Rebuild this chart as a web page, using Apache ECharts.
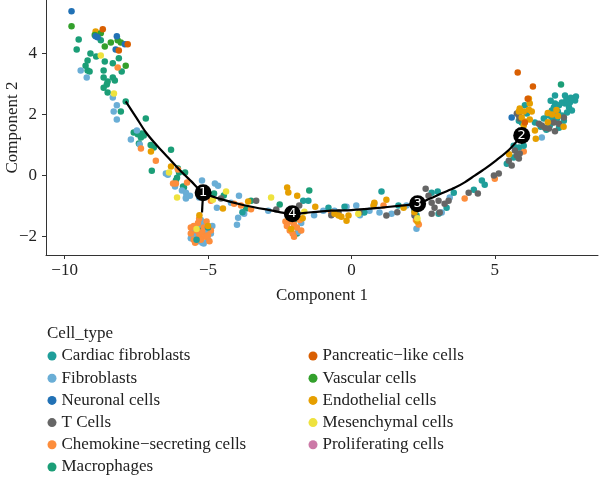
<!DOCTYPE html>
<html><head><meta charset="utf-8">
<script src="https://cdn.jsdelivr.net/npm/echarts@6/dist/echarts.min.js"></script>
<style>html,body{margin:0;padding:0;background:#fff}#c{width:600px;height:478px}</style>
</head><body><div id="c"></div>
<script>
const cellTypes = ['Cardiac fibroblasts','Fibroblasts','Neuronal cells','T Cells','Chemokine\u2212secreting cells','Macrophages','Pancreatic\u2212like cells','Vascular cells','Endothelial cells','Mesenchymal cells','Proliferating cells'];
const typeColors = ['#1F9E9A','#6AAED6','#2171B5','#666666','#FD8D3C','#1B9E77','#D95F02','#33A02C','#E69F00','#EEE23E','#CC79A7'];
const xTicks = [-10,-5,0,5];
const yTicks = [-2,0,2,4];

const cardiac = [[-1.50,-0.82],[-1.68,-0.82],[-0.80,-1.05],[-0.24,-1.02],[0.45,-1.21],[1.05,-0.52],[1.64,-0.98],[2.20,-1.15],[2.27,-1.30],[2.80,-0.56],[3.01,-0.52],[3.32,-1.05],[3.04,-1.25],[3.57,-0.56],[4.27,-0.46],[4.55,-0.16],[4.65,-0.30],[5.42,0.39],[5.66,0.59],[-3.80,-1.20],[-5.00,-1.70],[-5.40,-2.10],
[5.66,0.98],[5.84,0.92],[6.01,0.98],[6.05,2.30],[6.12,2.03],[5.94,1.74],[5.84,1.80],[6.40,1.74],
[6.71,1.87],[6.89,1.97],[6.99,2.13],[7.06,2.23],[7.10,2.36],[7.24,2.30],[7.34,2.39],[7.45,2.36],[7.59,2.23],[7.69,2.13],[7.52,2.07],[7.34,1.97],[7.17,1.87],[6.99,1.74],[6.92,1.64],[7.24,1.57],[7.41,1.80],[7.62,2.39],[7.80,2.46],[7.10,2.62],[7.45,2.62],[7.83,2.59],[6.60,1.60],[6.80,1.50],[7.00,1.90],[7.20,2.10],[6.85,2.00],[7.50,2.50],[7.65,2.55],[6.95,2.45]];
const fibroblasts = [[-9.44,3.44],[-9.23,3.21],[-8.32,2.56],[-8.18,2.30],[-8.29,2.10],[-8.18,1.84],
[-7.48,1.48],[-7.69,1.18],[-7.38,1.02],[-6.40,0.03],[-6.15,-0.36],[-5.91,-0.49],[-5.77,-0.56],[-5.63,-0.66],[-5.77,-0.75],[-5.21,-0.16],[-5.31,-0.72],[-4.76,-0.26],[-4.65,-0.33],[-4.69,-1.05],[-6.47,0.07],
[-4.20,-0.89],[-3.92,-0.66],[-3.74,-1.25],[-3.95,-1.38],[-3.99,-1.61],[-2.90,-1.15],[-5.77,-0.72],
[-5.55,-1.75],[-5.45,-1.95],[-5.35,-2.15],[-5.20,-2.20],[-5.00,-2.10],[-4.90,-1.90],[-5.10,-1.60],[-5.30,-1.60],[-5.60,-2.05],[-5.05,-1.85],[-4.85,-1.65],[-5.25,-1.45],[-5.15,-2.22],
[-2.20,-1.50],[-1.75,-1.55],[-1.85,-1.85],
[-0.98,-1.15],[-0.17,-1.02],[-0.59,-1.15],[0.17,-0.98],[0.63,-1.15],[0.80,-0.92],[0.98,-1.21],[1.40,-1.25],[1.92,-0.98],[2.27,-1.74],[3.15,-1.21],[3.43,-0.72],[-1.30,-1.30],[0.30,-1.30],[6.64,1.25]];
const neuronal = [[-9.76,5.38],[-8.92,4.56],[-8.85,4.53],[-8.18,4.56],[-8.22,4.13],[-7.90,4.30],[5.59,1.90]];
const tCells = [[-4.55,-0.75],[-3.32,-0.82],[-2.62,-1.11],[-1.82,-0.98],[-0.45,-1.21],[0.28,-1.21],[1.22,-1.31],[1.60,-1.20],[-0.70,-1.30],
[2.20,-1.31],[2.59,-0.43],[2.69,-0.66],[2.80,-0.89],[3.04,-0.82],[2.90,-1.05],[3.08,-1.21],[2.80,-1.25],[3.39,-0.82],[3.25,-0.92],[4.09,-0.56],[4.41,-0.59],[4.97,0.00],[5.14,0.07],[5.49,0.49],[5.59,0.33],[5.84,0.56],
[5.70,0.82],[5.77,0.66],[5.87,0.72],[5.84,1.97],[5.87,1.87],[5.77,2.03],
[6.54,1.70],[6.64,1.64],[6.75,1.57],[6.89,1.54],[7.06,1.74],[7.24,1.70],[7.41,1.90],[7.10,1.45]];
const chemokine = [[-8.15,3.54],[-7.34,0.89],[-6.82,0.49],[-6.05,0.20],[-5.73,-0.23],[-6.22,-0.26],
[-5.50,-1.65],[-5.40,-1.80],[-5.30,-1.95],[-5.50,-2.10],[-5.60,-1.90],[-5.20,-1.85],[-5.10,-2.00],[-5.00,-1.95],[-4.90,-1.80],[-5.25,-2.10],[-5.45,-2.20],[-5.15,-1.70],[-4.95,-2.15],[-5.35,-1.55],[-5.60,-1.70],[-5.05,-1.50],[-5.31,-1.41],
[-6.12,-0.26],[-4.90,-0.82],[-4.09,-0.92],[-3.85,-0.98],[-3.50,-1.10],
[-2.20,-1.35],[-2.10,-1.50],[-2.00,-1.60],[-1.90,-1.70],[-2.25,-1.65],[-2.15,-1.80],[-2.05,-1.90],[-1.80,-1.45],[-1.75,-1.80],[-2.30,-1.50],[-1.95,-1.35],[-2.00,-2.00],
[1.12,-0.98],[-0.70,-1.20],[2.25,-1.45],[2.35,-1.60],[3.95,-0.75],[5.00,-0.10],[6.01,0.79]];
const macrophages = [[-9.51,4.46],[-9.58,4.13],[-8.74,4.43],[-8.11,3.84],[-8.60,3.74],[-8.32,3.68],[-8.01,3.41],[-9.20,3.77],[-9.27,3.60],[-9.20,3.44],[-9.13,3.41],[-8.64,3.44],[-8.64,3.21],[-8.32,3.21],[-8.25,3.11],[-8.50,3.08],[-8.53,2.98],[-8.64,2.88],[-8.50,2.72],[-7.87,2.43],[-8.04,2.10],[-9.10,4.00],[-8.90,3.90],
[-7.17,1.87],[-7.59,1.41],[-7.31,1.38],[-7.24,1.31],[-7.34,1.25],[-7.45,1.35],[-7.41,1.05],[-6.89,0.92],[-6.29,0.85],[-6.96,0.16],[-6.05,0.23],[-6.01,0.10],[-5.80,0.10],[-6.08,-0.07],[-6.12,-0.16],[-5.87,-0.36],[-5.84,-0.39],[-7.00,1.00],
[-5.30,-1.90],[-5.50,-2.00],[-4.95,-1.75],[-5.45,-1.85],[-5.25,-1.75],
[-4.79,-0.59],[-4.45,-0.65],[-3.67,-1.08],[-3.50,-0.82],[-1.47,-0.49],[-2.00,-1.45],[-1.90,-1.90],[-2.50,-0.95],[7.31,2.98]];
const pancreatic = [[-8.67,4.79],[-8.11,4.10],[-7.80,4.30],[5.80,3.38],[6.33,2.92],[6.15,2.52],[6.05,1.74]];
const vascular = [[-9.76,4.89],[-8.74,4.66],[-8.60,4.23],[-8.39,4.36],[-8.15,4.43],[-8.04,4.36],[-7.87,3.60],[-8.95,4.60]];
const endothelial = [[-8.92,4.72],[-6.99,0.79],[-6.29,0.30],[-5.30,-1.30],[-5.00,-1.65],[-4.48,-1.08],[-3.60,-0.85],
[-2.24,-0.39],[-1.89,-0.66],[-2.20,-0.55],[-1.70,-1.40],[-2.10,-1.75],
[-1.26,-1.02],[-0.59,-1.25],[-0.35,-1.35],[-0.45,-1.31],[-0.10,-1.31],[-0.17,-1.48],[0.77,-0.98],[0.80,-0.89],[1.22,-0.79],[1.82,-1.05],[2.20,-1.20],[2.30,-1.50],
[5.87,2.20],[6.01,2.10],[6.19,2.16],[6.29,2.10],[5.94,1.90],[6.05,1.77],[6.22,1.84],[5.84,2.10],[6.01,1.64],[6.19,2.52],[6.22,2.36],[5.50,0.70],[6.43,1.21],[6.40,1.48],
[6.85,2.05],[7.00,2.00],[7.15,2.15],[7.20,1.95],[6.85,1.75],[7.40,1.60]];
const mesenchymal = [[-8.74,3.93],[-8.28,2.69],[-6.36,0.10],[-6.08,-0.72],[-4.83,-0.79],[-4.37,-0.52],[-2.80,-0.72],[-1.64,-1.18],[0.24,-1.25],[-5.40,-1.75],[-2.20,-1.35],[2.30,-1.40]];
const proliferating = [];

const trajectory = [[-7.87,2.43],[-7.50,1.90],[-7.17,1.42],[-6.75,0.95],[-6.29,0.49],[-5.90,0.10],[-5.59,-0.18],[-5.17,-0.56],[-4.55,-0.77],[-3.74,-0.97],[-2.90,-1.12],[-2.06,-1.25],[-1.40,-1.20],[-0.70,-1.15],[0.00,-1.13],[0.45,-1.10],[1.05,-1.05],[1.64,-0.99],[2.31,-0.92],[2.75,-0.75],[3.15,-0.58],[3.60,-0.40],[3.95,-0.22],[4.30,0.00],[4.65,0.22],[5.05,0.50],[5.49,0.84],[5.94,1.31]];
const branch = [[-5.17,-0.56],[-5.21,-1.21]];
const nodes = [[-5.17,-0.56,'1'],[5.94,1.31,'2'],[2.31,-0.92,'3'],[-2.06,-1.25,'4']];

const seriesData = {
  'Cardiac fibroblasts': cardiac, 'Fibroblasts': fibroblasts, 'Neuronal cells': neuronal, 'T Cells': tCells,
  'Chemokine\u2212secreting cells': chemokine, 'Macrophages': macrophages, 'Pancreatic\u2212like cells': pancreatic,
  'Vascular cells': vascular, 'Endothelial cells': endothelial, 'Mesenchymal cells': mesenchymal, 'Proliferating cells': proliferating
};
const drawOrder = ['Macrophages','Fibroblasts','Chemokine\u2212secreting cells','Cardiac fibroblasts','T Cells','Endothelial cells','Mesenchymal cells','Vascular cells','Neuronal cells','Pancreatic\u2212like cells','Proliferating cells'];

const FONT = 'Liberation Serif';
const series = drawOrder.map(name => ({
  name, type: 'scatter', data: seriesData[name], symbolSize: 6.5,
  itemStyle: { color: typeColors[cellTypes.indexOf(name)], opacity: 1 }, z: 2
}));
series.push({ type: 'line', data: trajectory, smooth: 0.3, symbol: 'none', lineStyle: { color: '#000', width: 2.2 }, z: 3, silent: true });
series.push({ type: 'line', data: branch, symbol: 'none', lineStyle: { color: '#000', width: 2.2 }, z: 3, silent: true });
series.push({ type: 'scatter', data: nodes, symbolSize: 17, itemStyle: { color: '#000', opacity: 1 }, z: 4,
  label: { show: true, position: 'inside', formatter: p => p.value[2], color: '#fff', fontSize: 13, fontFamily: 'DejaVu Sans' } });

const minus = v => String(v).replace('-', '\u2212');
const legendCommon = { orient: 'vertical', icon: 'circle', itemWidth: 9, itemHeight: 9, itemGap: 4.2, selectedMode: false, padding: 0,
  textStyle: { fontSize: 17, lineHeight: 18, fontFamily: FONT, color: '#222' }, top: 347, height: 131 };

const chart = echarts.init(document.getElementById('c'));
chart.setOption({
  animation: false,
  backgroundColor: '#fff',
  grid: { left: 46, right: 2, top: 0, bottom: 223, containLabel: false, outerBoundsMode: 'none' },
  xAxis: { type: 'value', min: -10.65, max: 8.6, splitLine: { show: false },
    name: 'Component 1', nameLocation: 'middle', nameGap: 32, nameMoveOverlap: false, nameTextStyle: { fontSize: 17, fontFamily: FONT, color: '#222' },
    axisLine: { onZero: false, lineStyle: { color: '#333', width: 1 } },
    axisTick: { length: 4, customValues: xTicks, lineStyle: { color: '#333' } },
    axisLabel: { customValues: xTicks, formatter: minus, fontSize: 17, fontFamily: FONT, color: '#222', margin: 7 } },
  yAxis: { type: 'value', min: -2.6, max: 5.75, splitLine: { show: false },
    name: 'Component 2', nameLocation: 'middle', nameGap: 25, nameMoveOverlap: false, nameTextStyle: { fontSize: 17, fontFamily: FONT, color: '#222' },
    axisLine: { show: true, onZero: false, lineStyle: { color: '#333', width: 1 } },
    axisTick: { show: true, length: 4, customValues: yTicks, lineStyle: { color: '#333' } },
    axisLabel: { customValues: yTicks, formatter: minus, fontSize: 17, fontFamily: FONT, color: '#222', margin: 9 } },
  legend: [
    Object.assign({}, legendCommon, { left: 47.5, data: cellTypes.slice(0, 6) }),
    Object.assign({}, legendCommon, { left: 308.5, data: cellTypes.slice(6) })
  ],
  graphic: [{ type: 'text', left: 47, top: 325, style: { text: 'Cell_type', font: '17px "Liberation Serif"', fill: '#222' } }],
  series
});
</script></body></html>
